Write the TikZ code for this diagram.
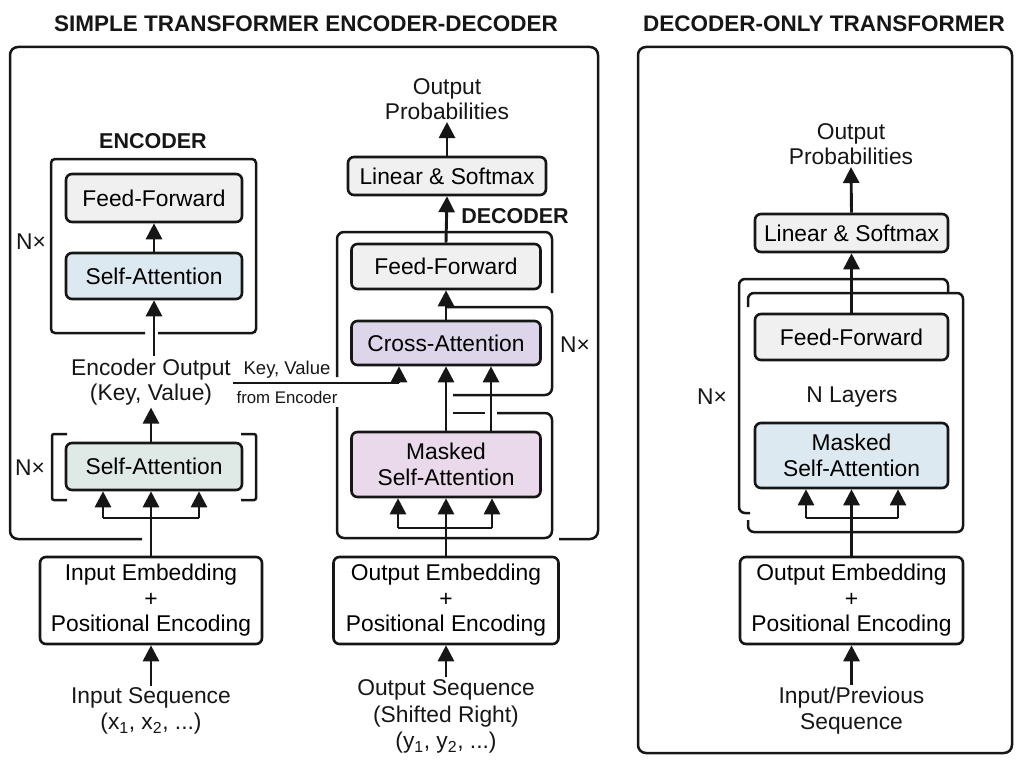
\documentclass[tikz,border=0pt]{standalone}
\usepackage{fontspec}
\setmainfont{Liberation Sans}
\usetikzlibrary{arrows.meta}
\definecolor{ink}{HTML}{161616}
\definecolor{boxgray}{HTML}{F0F0F0}
\definecolor{sablue}{HTML}{DCE9F1}
\definecolor{sagreen}{HTML}{DFEAE6}
\definecolor{capurple}{HTML}{DDD5EA}
\definecolor{msapink}{HTML}{EAD9EA}
\newcommand\fsbox{\fontsize{22.8}{25.5}\selectfont}
\newcommand\fsttl{\fontsize{22.5}{26}\selectfont\bfseries}
\newcommand\fssec{\fontsize{21.5}{26}\selectfont\bfseries}
\begin{document}
\begin{tikzpicture}[x=1pt,y=-1pt,
  box/.style={draw=ink, line width=2.6pt, rounded corners=6pt, align=center, inner sep=0pt, font=\fsbox},
  arr/.style={draw=ink, line width=2.9pt, -{Triangle[length=16pt,width=16pt]}},
  ln/.style={draw=ink, line width=2.5pt, rounded corners=7pt},
  bar/.style={draw=ink, line width=2.9pt},
  lbl/.style={align=center, font=\fsbox, inner sep=2pt, text=ink},
  ttl/.style={font=\fsttl, inner sep=0pt, text=ink},
  sec/.style={font=\fssec, inner sep=0pt, text=ink},
]
\useasboundingbox (0,0) rectangle (1024,765);

% ---------------- titles ----------------
\node[ttl] (t1) at (306,24) {SIMPLE TRANSFORMER ENCODER-DECODER};
\node[ttl] (t2) at (824,24) {DECODER-ONLY TRANSFORMER};

% ---------------- left outer frame ----------------
\draw[ln, rounded corners=8pt] (142,539) -- (10,539) -- (10,47) -- (598,47) -- (598,539) -- (559,539);

% ---------------- encoder ----------------
\node[sec] (enclbl) at (153,141) {ENCODER};
\draw[ln, rounded corners=4pt] (145,333) -- (51,333) -- (51,159) -- (256,159) -- (256,333) -- (158,333);
\node[box, fill=boxgray, minimum width=176pt, minimum height=48pt] (eff) at (154,198) {Feed-Forward};
\node[box, fill=sablue, minimum width=176pt, minimum height=46pt] (esa) at (154,276) {Self-Attention};
\node[lbl] (enx) at (31,242) {N×};
\draw[arr] (esa.north) -- (eff.south);

\node[lbl] (eout) at (151,382) {Encoder Output\\(Key, Value)};
\draw[arr] (eout.north -| esa.south) -- (esa.south);

\node[box, fill=sagreen, minimum width=176pt, minimum height=47pt] (esa2) at (154,466.5) {Self-Attention};
\draw[ln, rounded corners=2pt] (67,434) -- (52,434) -- (52,500) -- (67,500);
\draw[ln, rounded corners=2pt] (241,434) -- (256,434) -- (256,500) -- (241,500);
\node[lbl] (enx2) at (30,468) {N×};
\draw[arr] (esa2.north -| eout.south) -- (eout.south);

\node[box, minimum width=222pt, minimum height=87pt] (ein) at (151,600.5) {Input Embedding\\+\\Positional Encoding};
\coordinate (ebl) at (103,518);
\coordinate (ebr) at (199,518);
\draw[bar] (ebl) -- (ebr);
\draw[arr] (ein.north) -- (ein.north |- esa2.south);
\draw[arr] (ebl) -- (ebl |- esa2.south);
\draw[arr] (ebr) -- (ebr |- esa2.south);

\node[lbl] (inseq) at (151,711) {Input Sequence\\(x\textsubscript{1}, x\textsubscript{2}, ...)};
\draw[arr] (inseq.north) -- (ein.south);

% ---------------- decoder ----------------
\node[lbl] (dprob) at (447,99) {Output\\Probabilities};
\node[box, fill=boxgray, minimum width=198pt, minimum height=38pt] (dls) at (447,176) {Linear \& Softmax};
\draw[arr] (dls.north) -- (dprob.south);
\node[sec] (declbl) at (515,216) {DECODER};

\node[box, fill=boxgray, minimum width=189pt, minimum height=45pt] (dff) at (446,266.5) {Feed-Forward};
\node[box, fill=capurple, minimum width=189pt, minimum height=44pt] (dca) at (446,343) {Cross-Attention};
\node[box, fill=msapink, minimum width=189pt, minimum height=65pt] (dmsa) at (446,464.5) {Masked\\Self-Attention};
\draw[arr] (dff.north) -- (dls.south);
\draw[arr] (dca.north) -- (dff.south);

% decoder frame and residual lines
\draw[ln] (337,377) -- (337,232) -- (552,232) -- (552,293);
\draw[ln] (446,307) -- (552,307) -- (552,395) -- (453,395);
\draw[ln, rounded corners=0pt] (453,413) -- (485,413);
\draw[ln] (497,413) -- (552,413) -- (552,538) -- (337,538) -- (337,407);
\node[lbl] (dnx) at (575,345) {N×};

% key/value from encoder
\coordinate (kv) at (399,383);
\draw[draw=ink, line width=2.4pt] (eout.east |- kv) -- (kv);
\draw[arr] (kv) -- (kv |- dca.south);
\node[lbl, font=\fontsize{18.5}{20}\selectfont, inner sep=0pt] (kvl) at (287,370) {Key, Value};
\node[lbl, font=\fontsize{16.8}{20}\selectfont, inner sep=0pt] (kvl2) at (287,397) {from Encoder};

\coordinate (dcr) at (491,432);
\draw[arr] (dmsa.north) -- (dca.south);
\draw[arr] (dcr) -- (dcr |- dca.south);

\node[box, minimum width=225pt, minimum height=87pt] (demb) at (446,600.5) {Output Embedding\\+\\Positional Encoding};
\coordinate (dbl) at (398,528);
\coordinate (dbr) at (492,528);
\draw[bar] (dbl) -- (dbr);
\draw[arr] (demb.north) -- (demb.north |- dmsa.south);
\draw[arr] (dbl) -- (dbl |- dmsa.south);
\draw[arr] (dbr) -- (dbr |- dmsa.south);

\node[lbl, font=\fontsize{22.8}{26.5}\selectfont] (outseq) at (446,716.5) {Output Sequence\\(Shifted Right)\\(y\textsubscript{1}, y\textsubscript{2}, ...)};
\draw[arr] (outseq.north) -- (demb.south);

% ---------------- decoder-only ----------------
\draw[ln, rounded corners=8pt] (638,47) rectangle (1012,753);
\node[lbl] (oprob) at (851,144) {Output\\Probabilities};
\node[box, fill=boxgray, minimum width=193pt, minimum height=38pt] (ols) at (851.5,233) {Linear \& Softmax};
\draw[arr] (ols.north) -- (oprob.south);

\draw[ln, rounded corners=6pt] (750,513) -- (739,513) -- (739,279) -- (948,279) -- (948,292);
\draw[ln, rounded corners=6pt] (748,307) -- (748,293) -- (963,293) -- (963,532) -- (748,532) -- (748,520);

\node[box, fill=boxgray, minimum width=193pt, minimum height=46pt] (off) at (851.5,337) {Feed-Forward};
\draw[arr] (off.north) -- (ols.south);
\node[lbl] (olay) at (852,397) {N Layers};
\node[lbl] (onx) at (712,397) {N×};
\node[box, fill=sablue, minimum width=193pt, minimum height=65pt] (omsa) at (851.5,455.5) {Masked\\Self-Attention};

\node[box, minimum width=223pt, minimum height=87pt] (oemb) at (851.5,600.5) {Output Embedding\\+\\Positional Encoding};
\coordinate (obl) at (806,518);
\coordinate (obr) at (898,518);
\draw[bar] (obl) -- (obr);
\draw[arr] (oemb.north) -- (oemb.north |- omsa.south);
\draw[arr] (obl) -- (obl |- omsa.south);
\draw[arr] (obr) -- (obr |- omsa.south);

\node[lbl] (oseq) at (851.5,710.5) {Input/Previous\\Sequence};
\draw[arr] (oseq.north) -- (oemb.south);
\end{tikzpicture}
\end{document}
